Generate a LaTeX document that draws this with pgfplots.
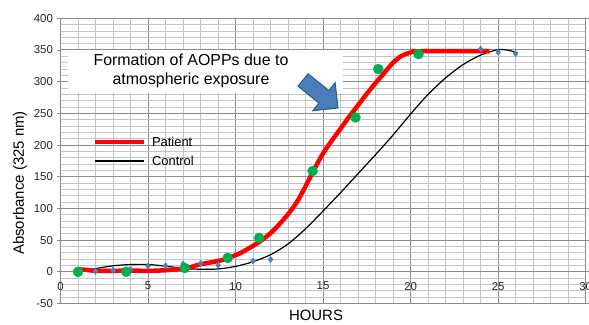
\documentclass[border=0pt]{standalone}
\usepackage{pgfplots}
\pgfplotsset{compat=1.18}
\usepackage{fontspec}
\setmainfont{Liberation Sans}
\definecolor{gridmaj}{HTML}{8C8C8C}
\definecolor{gridmin}{HTML}{C4C4C4}
\definecolor{ptgreen}{HTML}{00B050}
\definecolor{ctblue}{HTML}{4F81BD}
\definecolor{arrowfill}{HTML}{4A7EBB}
\definecolor{arrowdraw}{HTML}{2E5A8A}
\begin{document}
\begin{tikzpicture}[x=1bp,y=1bp]
\useasboundingbox (0,0) rectangle (589,324);
\begin{axis}[
  at={(60.5bp,20.5bp)}, anchor=south west,
  scale only axis, width=525.2bp, height=285.2bp,
  xmin=0, xmax=30, ymin=-50, ymax=400,
  xtick={0,5,...,30}, ytick={-50,0,...,400},
  minor x tick num=4, minor y tick num=4,
  grid=both,
  major grid style={gridmaj, line width=1bp},
  minor grid style={gridmin, line width=0.9bp},
  axis line style={gridmaj, line width=1bp},
  tick align=outside, major tick length=4bp, minor tick length=0pt,
  xtick style={draw=none}, ytick style={gridmaj, line width=0.8bp},
  /pgf/number format/assume math mode=true,
  tick label style={font=\fontsize{11.5}{12}\selectfont, text=black!85},
  xticklabel style={yshift=29bp},
  xlabel={HOURS}, ylabel={Absorbance (325 nm)},
  label style={font=\fontsize{15}{18}\selectfont},
  xlabel style={at={(axis description cs:0.4865,-0.043)}, anchor=center},
  ylabel style={at={(axis description cs:-0.0771,0.4225)}, anchor=center},
  legend cell align=left,
  legend image code/.code={\draw[#1] (0bp,0bp) -- (49bp,0bp);},
  legend style={draw=none, fill=none, inner sep=0pt, outer sep=0pt,
    at={(rel axis cs:0.0619,0.5335)}, anchor=west,
    font=\fontsize{13}{15}\selectfont,
    nodes={inner sep=0pt, text height=9.5bp, text depth=0bp},
    row sep=9.8bp, column sep=6bp},
]
\addlegendimage{red, line width=4bp}
\addlegendentry{Patient}
\addlegendimage{black, line width=2.5bp}
\addlegendentry{Control}
\addplot[forget plot, only marks, mark=diamond*, mark size=3.2bp, color=ctblue] coordinates {
(1,2.5)(2,1)(3,2.5)(4,4)(5,9)(6,9.5)(7,12.5)(8,13.5)(9,10.5)(11,17)(12,19.5)(24,351.5)(25,346.5)(26,344.5)};
\addplot[forget plot, black, line width=1.2bp, smooth, mark=none] coordinates {
(1,0)(1.5,2)(2,5)(3,9.5)(4,11.5)(5,11.5)(6,9)(7,5.5)(8,4)(9,4.5)(10,8.5)(11,16)(12,27)(13,44)(14,68)(15,96)(16,125)(17,155)(18,185)(19,216)(20,249)(21,280)(22,306)(23,327)(24,342)(25,350.5)(25.7,349)(26.05,345)};
\addplot[forget plot, red, line width=4.5bp, smooth, mark=none] coordinates {
(1,4)(1.5,3)(2,1.5)(3,1.5)(4,2)(5,1.5)(6,2.5)(7,5)(7.5,8)(8,12)(9,17)(9.6,22)(10.3,30)(11,41)(11.5,50)(12,61)(12.5,75)(13,91)(13.5,110)(14,135)(14.5,162)(15,187)(15.5,207)(16,226)(16.5,245)(17,263)(17.5,281)(18,298)(18.5,314)(19,330)(19.5,341)(20,346)(20.5,348)(24.5,348)};
\addplot[forget plot, only marks, mark=*, mark size=5bp, color=ptgreen] coordinates {
(1,0)(3.75,0)(7.1,6)(9.55,22)(11.35,53.5)(14.4,159)(16.85,243.5)(18.15,320)(20.45,343.5)};
\end{axis}
\fill[white] (68,231) rectangle (343,274);
\node[font=\fontsize{16}{19}\selectfont, align=center] at (191,253.5) {Formation of AOPPs due to\\atmospheric exposure};
\filldraw[fill=arrowfill, draw=arrowdraw, line width=1bp, line join=miter] (308.0,250.25) -- (328.9,233.5) -- (335.15,241.3) -- (338,216) -- (312.65,213.2) -- (318.9,221.0) -- (298.0,237.75) -- cycle;
\end{tikzpicture}
\end{document}
